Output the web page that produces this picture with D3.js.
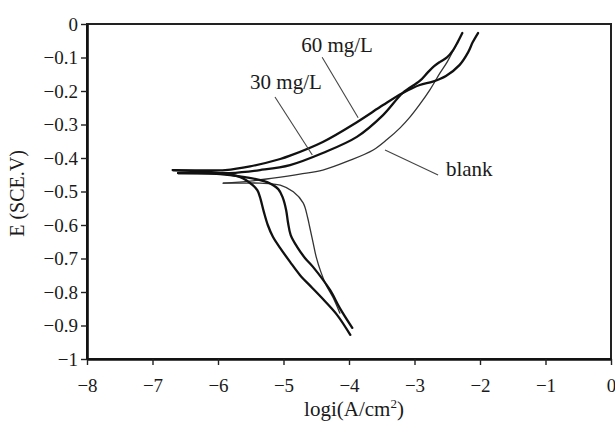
<!DOCTYPE html>
<html>
<head>
<meta charset="utf-8">
<script src="https://cdn.jsdelivr.net/npm/d3@7"></script>
<style>
  html, body { margin: 0; padding: 0; background: #fff; }
  svg { display: block; }
  text { font-family: "Liberation Serif", "Times New Roman", serif; fill: #1a1a1a; }
</style>
</head>
<body>
<div id="chart"></div>
<script>
// Tick values
const xTicks = [-8, -7, -6, -5, -4, -3, -2, -1, 0];
const yTicks = [0, -0.1, -0.2, -0.3, -0.4, -0.5, -0.6, -0.7, -0.8, -0.9, -1];

// Polarization curves [log i, E], each branch starts at the corrosion point
const blankCathodic = [[-5.92,-0.475],[-5.66,-0.475],[-5.36,-0.475],[-5.05,-0.481],[-4.85,-0.501],[-4.70,-0.534],
  [-4.63,-0.579],[-4.60,-0.606],[-4.55,-0.651],[-4.50,-0.696],[-4.43,-0.740],[-4.35,-0.779],[-4.24,-0.818],[-4.14,-0.863]];
const blankAnodic = [[-5.92,-0.475],[-5.51,-0.469],[-5.16,-0.460],[-4.75,-0.448],[-4.40,-0.436],[-4.00,-0.408],
  [-3.63,-0.376],[-3.42,-0.345],[-3.22,-0.310],[-3.07,-0.278],[-2.92,-0.240],[-2.76,-0.195],[-2.61,-0.146],
  [-2.50,-0.113],[-2.41,-0.080],[-2.35,-0.057]];

const c30Cathodic = [[-6.61,-0.445],[-5.97,-0.448],[-5.59,-0.457],[-5.25,-0.472],[-5.08,-0.493],[-5.01,-0.519],
  [-4.96,-0.555],[-4.93,-0.594],[-4.89,-0.630],[-4.79,-0.666],[-4.67,-0.699],[-4.55,-0.725],[-4.29,-0.794],
  [-4.14,-0.848],[-3.95,-0.907]];
const c30Anodic = [[-6.61,-0.445],[-6.27,-0.445],[-5.82,-0.445],[-5.36,-0.436],[-4.90,-0.421],[-4.40,-0.385],
  [-3.88,-0.337],[-3.48,-0.272],[-3.18,-0.206],[-2.92,-0.170],[-2.80,-0.145],[-2.70,-0.126],[-2.61,-0.113],
  [-2.50,-0.099],[-2.41,-0.078],[-2.34,-0.054],[-2.27,-0.027]];

const c60Cathodic = [[-6.69,-0.436],[-6.35,-0.439],[-5.97,-0.445],[-5.66,-0.457],[-5.47,-0.481],[-5.40,-0.496],
  [-5.36,-0.516],[-5.30,-0.561],[-5.24,-0.600],[-5.16,-0.636],[-5.05,-0.669],[-4.90,-0.710],[-4.75,-0.749],
  [-4.56,-0.788],[-4.37,-0.827],[-4.18,-0.869],[-3.98,-0.928]];
const c60Anodic = [[-6.69,-0.436],[-6.27,-0.437],[-5.89,-0.436],[-5.51,-0.425],[-5.05,-0.403],[-4.90,-0.393],
  [-4.40,-0.352],[-3.88,-0.293],[-3.48,-0.242],[-3.18,-0.206],[-2.92,-0.182],[-2.72,-0.172],[-2.52,-0.155],
  [-2.31,-0.122],[-2.18,-0.084],[-2.11,-0.054],[-2.03,-0.027]];

// Labels with leader lines: text anchor, leader start, leader end
const labels = [
  { text: '60 mg/L', at: [-4.73, -0.084], from: [-4.41, -0.099], to: [-3.86, -0.280] },
  { text: '30 mg/L', at: [-5.51, -0.194], from: [-5.13, -0.218], to: [-4.56, -0.391] },
  { text: 'blank',   at: [-2.52, -0.454], from: [-3.45, -0.376], to: [-2.64, -0.451] }
];

const W = 615, H = 421;
const margin = { top: 24, right: 4, bottom: 62, left: 87 };

const svg = d3.select('#chart').append('svg')
  .attr('width', W)
  .attr('height', H);

const x = d3.scaleLinear().domain([-8, 0]).range([margin.left, W - margin.right]);
const y = d3.scaleLinear().domain([-1, 0]).range([H - margin.bottom, margin.top]);

const fmt = d => d === 0 ? '0' : '\u2212' + Math.abs(d);

// Frame (top and right)
svg.append('rect')
  .attr('x', x(-8)).attr('y', y(0))
  .attr('width', x(0) - x(-8)).attr('height', y(-1) - y(0))
  .attr('fill', 'none')
  .attr('stroke', '#222')
  .attr('stroke-width', 2);

// Axes
const xAxis = svg.append('g')
  .attr('transform', `translate(0,${y(-1)})`)
  .call(d3.axisBottom(x).tickValues(xTicks).tickFormat(fmt).tickSize(6).tickSizeOuter(0).tickPadding(14));

const yAxis = svg.append('g')
  .attr('transform', `translate(${x(-8)},0)`)
  .call(d3.axisLeft(y).tickValues(yTicks).tickFormat(fmt).tickSize(6).tickSizeOuter(0).tickPadding(3));

[xAxis, yAxis].forEach(a => {
  a.attr('font-family', null).attr('font-size', null);
  a.select('.domain').attr('stroke', '#111').attr('stroke-width', 2.6);
  a.selectAll('.tick line').attr('stroke', '#222').attr('stroke-width', 1.4);
  a.selectAll('.tick text')
    .style('font-family', '"Liberation Serif", "Times New Roman", serif')
    .style('font-size', '19px')
    .attr('fill', '#1a1a1a');
});

// Curves
const line = d3.line()
  .x(d => x(d[0]))
  .y(d => y(d[1]))
  .curve(d3.curveCatmullRom.alpha(0.5));

const curves = [
  { data: blankCathodic, width: 1.3, color: '#333' },
  { data: blankAnodic,   width: 1.3, color: '#333' },
  { data: c30Cathodic,   width: 2.3, color: '#111' },
  { data: c30Anodic,     width: 2.3, color: '#111' },
  { data: c60Cathodic,   width: 2.3, color: '#111' },
  { data: c60Anodic,     width: 2.3, color: '#111' }
];

svg.append('g')
  .selectAll('path')
  .data(curves)
  .enter()
  .append('path')
  .attr('d', d => line(d.data))
  .attr('fill', 'none')
  .attr('stroke', d => d.color)
  .attr('stroke-width', d => d.width)
  .attr('stroke-linecap', 'round');

// Leader lines and labels
const ann = svg.append('g');
ann.selectAll('line')
  .data(labels)
  .enter()
  .append('line')
  .attr('x1', d => x(d.from[0])).attr('y1', d => y(d.from[1]))
  .attr('x2', d => x(d.to[0])).attr('y2', d => y(d.to[1]))
  .attr('stroke', '#444')
  .attr('stroke-width', 1.1);

ann.selectAll('text')
  .data(labels)
  .enter()
  .append('text')
  .attr('x', d => x(d.at[0]))
  .attr('y', d => y(d.at[1]))
  .attr('font-size', 21)
  .text(d => d.text);

// Axis titles
svg.append('text')
  .attr('transform', `translate(24,${(y(0) + y(-1)) / 2 + 2}) rotate(-90)`)
  .attr('text-anchor', 'middle')
  .attr('font-size', 20)
  .text('E (SCE.V)');

const xt = svg.append('text')
  .attr('x', (x(-8) + x(0)) / 2 + 5)
  .attr('y', 416)
  .attr('text-anchor', 'middle')
  .attr('font-size', 21);
xt.append('tspan').text('logi(A/cm');
xt.append('tspan').attr('font-size', 13).attr('dy', -8).text('2');
xt.append('tspan').attr('dy', 8).text(')');
</script>
</body>
</html>
